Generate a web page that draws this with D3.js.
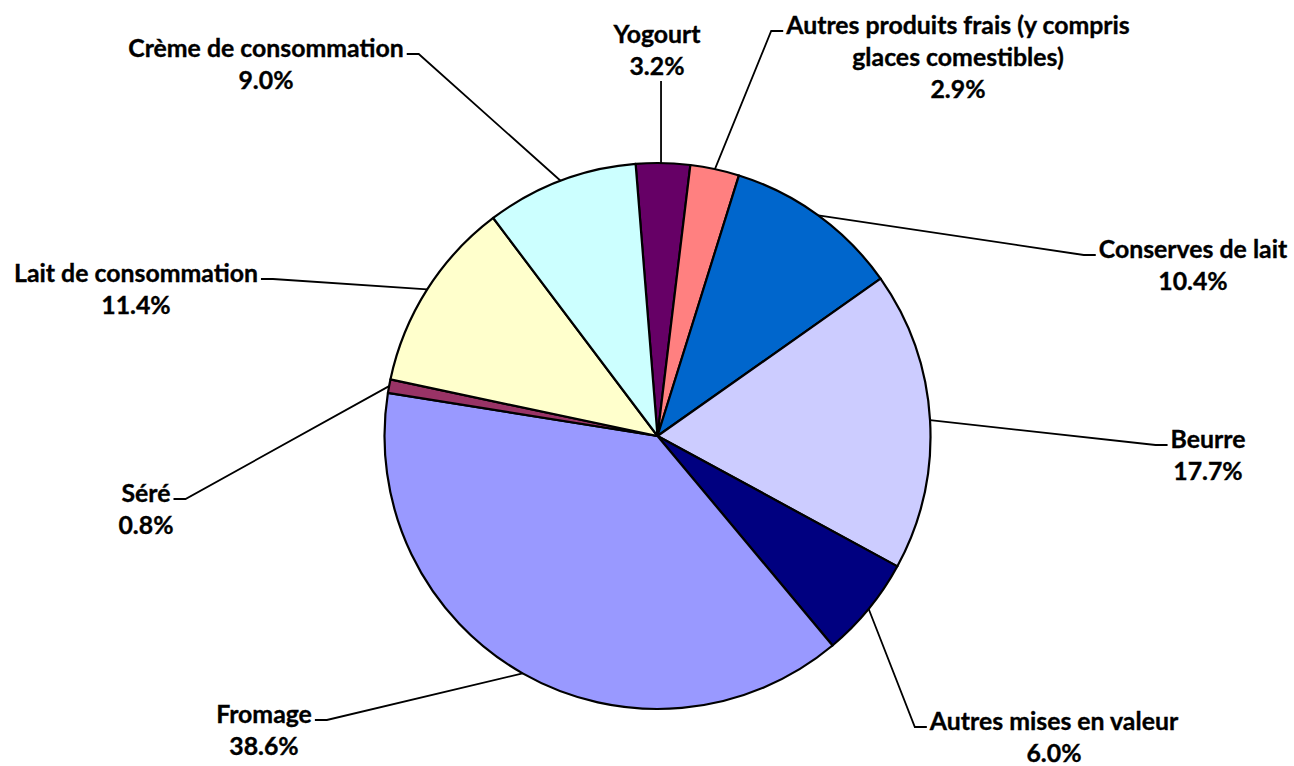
<!DOCTYPE html>
<html>
<head>
<meta charset="utf-8">
<script src="https://cdn.jsdelivr.net/npm/d3@7"></script>
<style>
  body { margin: 0; background: #fff; }
  svg { display: block; }
  .lbl { font-family: Lato, "Open Sans", sans-serif; font-weight: 700; fill: #000; stroke: #000; stroke-width: 0.35px; }
</style>
</head>
<body>
<div id="chart"></div>
<script>

// data, clockwise from the top
const categories = ["Yogourt", "Autres produits frais (y compris glaces comestibles)", "Conserves de lait", "Beurre",
  "Autres mises en valeur", "Fromage", "Séré", "Lait de consommation", "Crème de consommation"]
const shares = [3.2, 2.9, 10.4, 17.7, 6.0, 38.6, 0.8, 11.4, 9.0]
const labelLines = [["Yogourt"], ["Autres produits frais (y compris", "glaces comestibles)"], ["Conserves de lait"], ["Beurre"],
  ["Autres mises en valeur"], ["Fromage"], ["Séré"], ["Lait de consommation"], ["Crème de consommation"]]
const colors = ["#660066", "#FF8080", "#0066CC", "#CCCCFF", "#000080", "#9999FF", "#993366", "#FFFFCC", "#CCFFFF"]

// label placement (layout only)
const labelPos = [
  {x: 657, y: 33, side: "below"},
  {x: 958, y: 24, side: "right"},
  {x: 1193, y: 248, side: "right"},
  {x: 1208, y: 438, side: "right"},
  {x: 1054, y: 720, side: "right"},
  {x: 264, y: 713, side: "left"},
  {x: 146, y: 492, side: "left"},
  {x: 136, y: 272, side: "left"},
  {x: 266, y: 47, side: "left"}
]

const width = 1294, height = 766
const cx = 657.5, cy = 436, radius = 273
const offset = -4.6 * Math.PI / 180
const lineGap = 32

const svg = d3.select("#chart").append("svg")
  .attr("width", width)
  .attr("height", height)

// pick a font size so that the label widths match the original
const probe = svg.append("text").attr("class", "lbl").style("font-size", "100px").text("Lait de consommation")
const fontSize = 100 * 244 / probe.node().getComputedTextLength()
probe.remove()

const pie = d3.pie().sort(null).value(d => d)
  .startAngle(offset).endAngle(offset + 2 * Math.PI)
const arcs = pie(shares)

const arc = d3.arc().innerRadius(0).outerRadius(radius)

const g = svg.append("g").attr("transform", `translate(${cx},${cy})`)

g.selectAll("path")
  .data(arcs)
  .join("path")
  .attr("d", arc)
  .attr("fill", (d, i) => colors[i])
  .attr("stroke", "#000")
  .attr("stroke-width", 2.2)
  .attr("stroke-linejoin", "round")

// labels
const labels = svg.append("g")
arcs.forEach(function(a, i) {
  const p = labelPos[i]
  const lines = labelLines[i].concat([d3.format(".1f")(shares[i]) + "%"])
  const t = labels.append("text")
    .attr("class", "lbl")
    .style("font-size", fontSize + "px")
    .attr("text-anchor", "middle")
  lines.forEach(function(s, k) {
    t.append("tspan")
      .attr("x", p.x)
      .attr("y", p.y + k * lineGap)
      .attr("dominant-baseline", "central")
      .text(s)
  })

  // leader line to the middle of the slice edge
  const mid = (a.startAngle + a.endAngle) / 2
  const ex = cx + radius * Math.sin(mid)
  const ey = cy - radius * Math.cos(mid)
  const firstW = t.select("tspan").node().getComputedTextLength()
  let pts
  if (p.side == "below") {
    pts = [[ex - 2, p.y + lineGap + 16], [ex - 2, ey]]
  } else if (p.side == "right") {
    const x0 = p.x - firstW / 2 - 3
    pts = [[x0, p.y + 7], [x0 - 12, p.y + 7], [ex, ey]]
  } else {
    const x0 = p.x + firstW / 2 + 3
    pts = [[x0, p.y + 7], [x0 + 12, p.y + 7], [ex, ey]]
  }
  svg.append("path")
    .attr("d", d3.line()(pts))
    .attr("fill", "none")
    .attr("stroke", "#000")
    .attr("stroke-width", 1.8)
})

</script>
</body>
</html>
